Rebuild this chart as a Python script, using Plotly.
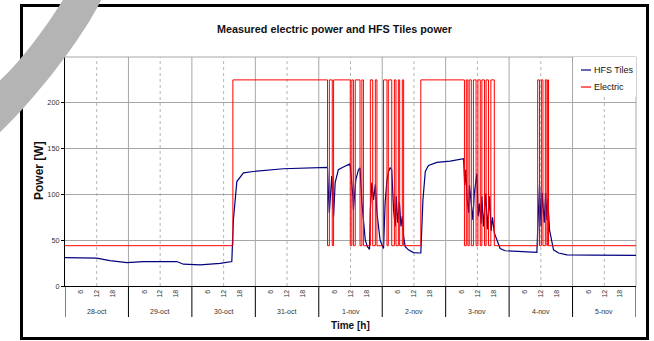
import plotly.graph_objects as go

# ---------------- data ----------------
day_labels = ["28-oct", "29-oct", "30-oct", "31-oct", "1-nov", "2-nov", "3-nov", "4-nov", "5-nov"]
hour_ticks = [6, 12, 18]

# HFS Tiles power: (hour since 28-oct 00:00, W)
hfs_points = [
    (0, 31.0), (12, 30.4), (17, 27.8), (23.4, 25.6), (29.6, 26.7), (42.3, 26.7), (44.8, 23.8),
    (51.1, 23.0), (58.7, 24.8), (63.1, 26.7), (63.7, 72), (65.0, 114), (67.5, 123.6), (71.3, 125),
    (82.6, 128), (96.5, 129), (99.3, 129.5), (99.7, 98), (100.0, 80), (100.9, 120), (101.6, 76),
    (102.2, 113), (103.4, 127), (105.3, 130), (107.6, 133), (107.9, 131), (108.5, 113), (108.9, 98),
    (109.1, 83), (110.0, 116), (111.0, 127), (111.6, 129), (112.3, 91), (112.7, 76), (113.6, 50),
    (114.4, 43), (115.2, 40), (115.5, 83), (116.1, 113), (116.7, 94), (117.4, 111), (118.0, 80),
    (118.6, 61), (119.2, 50), (119.9, 45), (120.5, 41), (121.1, 91), (121.8, 116), (122.4, 125),
    (123.0, 129), (123.6, 127), (124.3, 83), (124.9, 65), (125.3, 98), (125.8, 69), (126.5, 91),
    (127.1, 65), (127.6, 76), (128.1, 54), (128.7, 43), (129.9, 39.5), (131.8, 36.5), (134.1, 36),
    (134.6, 36), (135.4, 94), (136.3, 125), (137.5, 131.6), (140.7, 135), (145.7, 136.4),
    (150.5, 139), (150.8, 139), (151.2, 110), (151.6, 127), (152.1, 95), (152.7, 80), (153.0, 110),
    (153.6, 90), (154.3, 72), (154.8, 100), (155.8, 123), (156.3, 76), (156.8, 90), (157.4, 68),
    (157.7, 98), (158.3, 65), (159.2, 101), (159.8, 62), (160.6, 98), (161.2, 60), (161.7, 75),
    (162.4, 58), (163.4, 50), (164.6, 41), (166.5, 38.5), (172.2, 37.5), (178.5, 36.6),
    (178.8, 60), (179.5, 110.8), (180.1, 65), (180.5, 101.7), (181.3, 69), (181.8, 101.7),
    (182.3, 72), (182.6, 95), (183.3, 61), (184.0, 48.6), (184.8, 39.5), (186.7, 36),
    (189.9, 34), (200, 33.8), (216, 33.5),
]

# Electric power steps: (hour where level starts, W)
electric_steps = [
    (0, 44), (63.5, 225), (99.3, 44), (100.0, 225), (101.1, 44), (101.6, 225), (107.9, 44),
    (108.5, 225), (109.1, 44), (109.8, 225), (111.6, 44), (112.3, 225), (112.9, 44), (115.5, 225),
    (116.4, 44), (117.4, 225), (118.0, 44), (120.5, 225), (121.8, 44), (122.3, 225), (123.6, 44),
    (124.6, 225), (125.2, 44), (126.1, 225), (126.6, 44), (127.6, 225), (128.1, 44), (134.6, 225),
    (151.1, 44), (151.8, 225), (152.4, 44), (152.9, 225), (153.7, 44), (154.5, 225), (155.5, 44),
    (156.2, 225), (157.1, 44), (157.7, 225), (158.7, 44), (159.3, 225), (160.2, 44), (161.1, 225),
    (162.4, 44), (178.8, 225), (179.5, 44), (180.2, 225), (180.8, 44), (181.7, 225), (182.3, 44),
    (182.6, 225), (182.9, 44), (216, 44),
]

y_ticks = [0, 50, 100, 150, 200]
y_max = 250

# ---------------- layout helpers ----------------
W, H = 654, 341
L, R, T, B = 65, 18, 57, 55
PW, PH = W - L - R, H - T - B
FONT = "Liberation Sans, Arial, sans-serif"


def px(x):
    return (x - L) / PW


def py(y):
    return (H - B - y) / PH


n_days = len(day_labels)
x_max = 24 * n_days

fig = go.Figure()
fig.add_trace(go.Scatter(
    x=[p[0] for p in hfs_points], y=[p[1] for p in hfs_points], mode="lines",
    name="HFS Tiles", line=dict(color="#000080", width=1.2), showlegend=False))
fig.add_trace(go.Scatter(
    x=[p[0] for p in electric_steps], y=[p[1] for p in electric_steps], mode="lines",
    name="Electric", line=dict(color="#ff0000", width=1, shape="hv"), showlegend=False))

tickvals, ticktext = [], []
for d in range(n_days):
    for h in hour_ticks:
        tickvals.append(24 * d + h)
        ticktext.append(str(h))

shapes = []
# vertical grid lines
for d in range(1, n_days):
    shapes.append(dict(type="line", xref="x", yref="paper", x0=24 * d, x1=24 * d, y0=0, y1=1,
                       line=dict(color="#a6a6a6", width=1), layer="below"))
for d in range(n_days):
    shapes.append(dict(type="line", xref="x", yref="paper", x0=24 * d + 12, x1=24 * d + 12, y0=0, y1=1,
                       line=dict(color="#b4b4b4", width=1, dash="3px,3px"), layer="below"))
# top and right border
shapes.append(dict(type="line", xref="paper", yref="paper", x0=0, x1=1, y0=1, y1=1,
                   line=dict(color="#a6a6a6", width=1), layer="below"))
shapes.append(dict(type="line", xref="paper", yref="paper", x0=1, x1=1, y0=0, y1=1,
                   line=dict(color="#a6a6a6", width=1), layer="below"))
# separators in the date band
for d in range(n_days + 1):
    shapes.append(dict(type="line", xref="x", yref="paper", x0=24 * d, x1=24 * d, y0=0, y1=py(317),
                       line=dict(color="black", width=1)))
# legend box
shapes.append(dict(type="rect", xref="paper", yref="paper", x0=px(573.5), x1=1, y0=py(97), y1=1,
                   fillcolor="white", line=dict(width=0), layer="below"))
shapes.append(dict(type="line", xref="paper", yref="paper", x0=px(581), x1=px(591), y0=py(70), y1=py(70),
                   line=dict(color="#000080", width=1.2)))
shapes.append(dict(type="line", xref="paper", yref="paper", x0=px(581), x1=px(591), y0=py(87), y1=py(87),
                   line=dict(color="#ff0000", width=1.2)))
# outer frame
shapes.append(dict(type="rect", xref="paper", yref="paper", x0=px(21.5), x1=px(647.5), y0=py(338.5), y1=py(5.5),
                   line=dict(color="black", width=3)))


# grey band (page artefact) top-left
def pt(x, y):
    return f"{px(x):.5f},{py(y):.5f}"


band = (f"M {pt(102, -2)} C {pt(85, 35)} {pt(35, 100)} {pt(-2, 134)} "
        f"L {pt(-2, 82)} C {pt(15, 68)} {pt(45, 30)} {pt(64, -2)} Z")
shapes.append(dict(type="path", xref="paper", yref="paper", path=band,
                   fillcolor="#b4b4b4", line=dict(width=0), layer="above"))

annotations = []
for d, lab in enumerate(day_labels):
    annotations.append(dict(x=24 * d + 12, y=py(311.5), xref="x", yref="paper", text=lab, showarrow=False,
                            font=dict(family=FONT, size=7, color="#333333"), xanchor="center", yanchor="middle"))
annotations.append(dict(x=px(334.5), y=py(29), xref="paper", yref="paper", showarrow=False,
                        text="<b>Measured electric power and HFS Tiles power</b>",
                        font=dict(family=FONT, size=10.8, color="#111111"), xanchor="center", yanchor="middle"))
annotations.append(dict(x=px(39), y=py(171), xref="paper", yref="paper", showarrow=False, textangle=-90,
                        text="<b>Power [W]</b>", font=dict(family=FONT, size=12, color="#111111"),
                        xanchor="center", yanchor="middle"))
annotations.append(dict(x=px(350), y=py(325.5), xref="paper", yref="paper", showarrow=False,
                        text="<b>Time [h]</b>", font=dict(family=FONT, size=10, color="#111111"),
                        xanchor="center", yanchor="middle"))
annotations.append(dict(x=px(592), y=py(70), xref="paper", yref="paper", showarrow=False, text="HFS Tiles",
                        font=dict(family=FONT, size=9, color="#111111"), xanchor="left", yanchor="middle"))
annotations.append(dict(x=px(592), y=py(87), xref="paper", yref="paper", showarrow=False, text="Electric",
                        font=dict(family=FONT, size=9, color="#111111"), xanchor="left", yanchor="middle"))

fig.update_layout(
    width=W, height=H, margin=dict(l=L, r=R, t=T, b=B, pad=0),
    paper_bgcolor="white", plot_bgcolor="white", showlegend=False,
    shapes=shapes, annotations=annotations,
    xaxis=dict(range=[0, x_max], tickvals=tickvals, ticktext=ticktext, tickangle=-90,
               tickfont=dict(family=FONT, size=7, color="#333333"), showgrid=False, zeroline=False,
               showline=True, linecolor="black", linewidth=1, ticks="", fixedrange=True),
    yaxis=dict(range=[0, y_max], tickvals=y_ticks, tickfont=dict(family=FONT, size=7.3, color="#333333"),
               showgrid=True, gridcolor="#a6a6a6", gridwidth=1, zeroline=False,
               showline=True, linecolor="black", linewidth=1, ticks="outside", ticklen=3,
               tickcolor="black", fixedrange=True),
)

fig.write_html("out.html")
